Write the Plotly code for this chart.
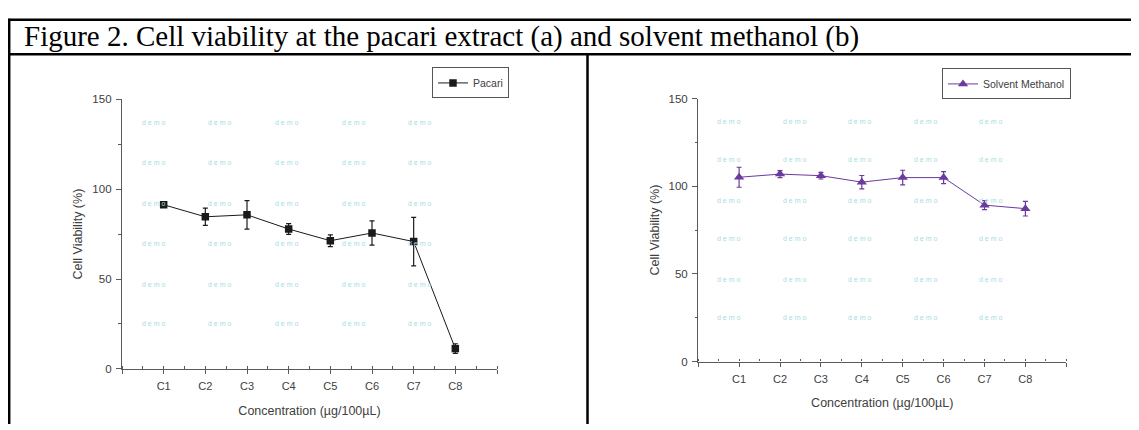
import plotly.graph_objects as go

# ---------------- data ----------------
categories = ["C1", "C2", "C3", "C4", "C5", "C6", "C7", "C8"]
x_pos = [1, 2, 3, 4, 5, 6, 7, 8]

pacari = [91.3, 84.6, 85.7, 77.8, 71.3, 75.6, 70.8, 11.3]
pacari_err = [1.2, 4.8, 7.9, 3.0, 3.3, 6.7, 13.5, 2.7]

methanol = [105.1, 106.9, 106.0, 102.3, 104.9, 104.9, 89.2, 87.2]
methanol_err = [5.7, 2.0, 1.9, 3.8, 4.2, 3.4, 2.6, 4.2]

y_ticks = [0, 50, 100, 150]
x_ticks = [0, 1, 2, 3, 4, 5, 6, 7, 8, 9]
x_ticktext = [""] + categories + [""]

# watermark grid (data units)
wm_x = [0.75, 2.35, 3.95, 5.55, 7.15]
wm_y = [137, 115, 92, 70, 47, 25]

title_text = "Figure 2. Cell viability at the pacari extract (a) and solvent methanol (b)"

# page body has an 8px default margin; compensate so page pixels match
OFF = 8
W, H = 1139 - OFF, 430 - OFF


def px(x):
    return (x - OFF) / W


def py(y):
    return 1 - (y - OFF) / H


AX_COLOR = "#5a5a5a"
TXT_COLOR = "#404040"
FONT = "Liberation Sans"
PURPLE = "#6a3a9c"

fig = go.Figure()

fig.add_trace(go.Scatter(
    x=x_pos, y=pacari, mode="lines+markers", name="Pacari",
    line=dict(color="#1a1a1a", width=1),
    marker=dict(symbol="square", size=7.5, color="#1a1a1a"),
    error_y=dict(type="data", array=pacari_err, visible=True,
                 color="#1a1a1a", thickness=1.2, width=2.5),
    xaxis="x", yaxis="y", legend="legend",
))

fig.add_trace(go.Scatter(
    x=x_pos, y=methanol, mode="lines+markers", name="Solvent Methanol",
    line=dict(color=PURPLE, width=1),
    marker=dict(symbol="triangle-up", size=9, color=PURPLE),
    error_y=dict(type="data", array=methanol_err, visible=True,
                 color=PURPLE, thickness=1.2, width=2.5),
    xaxis="x2", yaxis="y2", legend="legend2",
))

xaxis_common = dict(
    range=[0, 9], tickmode="array", tickvals=x_ticks, ticktext=x_ticktext,
    showline=True, linecolor=AX_COLOR, linewidth=1.3,
    ticks="outside", ticklen=4, tickwidth=1.3, tickcolor=AX_COLOR,
    minor=dict(ticks="inside", ticklen=2.5, tickwidth=1, tickcolor=AX_COLOR, dtick=0.5,
               showgrid=False),
    showgrid=False, zeroline=False,
    tickfont=dict(family=FONT, size=11, color=TXT_COLOR),
    ticklabelstandoff=3,
    title=dict(text="Concentration (µg/100µL)", standoff=14,
               font=dict(family=FONT, size=12.5, color=TXT_COLOR)),
    fixedrange=True,
)
yaxis_common = dict(
    range=[0, 150], tickmode="array", tickvals=y_ticks,
    showline=True, linecolor=AX_COLOR, linewidth=1.3,
    ticks="outside", ticklen=5, tickwidth=1.3, tickcolor=AX_COLOR,
    minor=dict(ticks="outside", ticklen=2.5, tickwidth=1, tickcolor=AX_COLOR, dtick=25,
               showgrid=False),
    showgrid=False, zeroline=False,
    tickfont=dict(family=FONT, size=11.5, color=TXT_COLOR),
    title=dict(text="Cell Viability (%)", standoff=6,
               font=dict(family=FONT, size=12.5, color=TXT_COLOR)),
    ticklabelstandoff=2,
    fixedrange=True,
)

legend_common = dict(
    xanchor="right", yanchor="top",
    bgcolor="white", bordercolor="#555", borderwidth=1,
    font=dict(family=FONT, size=10.5, color=TXT_COLOR),
    itemwidth=30, tracegroupgap=0,
)

fig.update_layout(
    width=W, height=H,
    margin=dict(l=0, r=0, t=0, b=0),
    paper_bgcolor="white", plot_bgcolor="white",
    xaxis=dict(domain=[px(122), px(497)], anchor="y", **xaxis_common),
    yaxis=dict(domain=[py(373.3), py(95.7)], anchor="x", **yaxis_common),
    xaxis2=dict(domain=[px(698.2), px(1066.3)], anchor="y2", **xaxis_common),
    yaxis2=dict(domain=[py(365.7), py(95)], anchor="x2", **yaxis_common),
    legend=dict(x=px(509), y=py(63), **legend_common),
    legend2=dict(x=px(1071), y=py(64), **legend_common),
    showlegend=True,
)

annotations = []
# title
annotations.append(dict(
    text=title_text, xref="paper", yref="paper", x=px(22), y=py(31.5),
    xanchor="left", yanchor="middle", showarrow=False,
    font=dict(family="Liberation Serif", size=29, color="black"),
))
# watermarks
for xr, yr in (("x", "y"), ("x2", "y2")):
    for wx in wm_x:
        for wy in wm_y:
            annotations.append(dict(
                text="d e m o", xref=xr, yref=yr, x=wx, y=wy,
                showarrow=False, font=dict(family=FONT, size=7, color="#a6dcdf"),
            ))
fig.update_layout(annotations=annotations)

# table borders
line = dict(color="black", width=2.5)
shapes = [
    dict(type="line", xref="paper", yref="paper", x0=px(7.5), x1=1, y0=py(14), y1=py(14), line=line),
    dict(type="line", xref="paper", yref="paper", x0=px(7.5), x1=1, y0=py(49.5), y1=py(49.5), line=line),
    dict(type="line", xref="paper", yref="paper", x0=px(9.2), x1=px(9.2), y0=py(13), y1=0, line=line),
    dict(type="line", xref="paper", yref="paper", x0=px(587.5), x1=px(587.5), y0=py(49.5), y1=0, line=line),
]
fig.update_layout(shapes=shapes)

fig.write_html("out.html")
